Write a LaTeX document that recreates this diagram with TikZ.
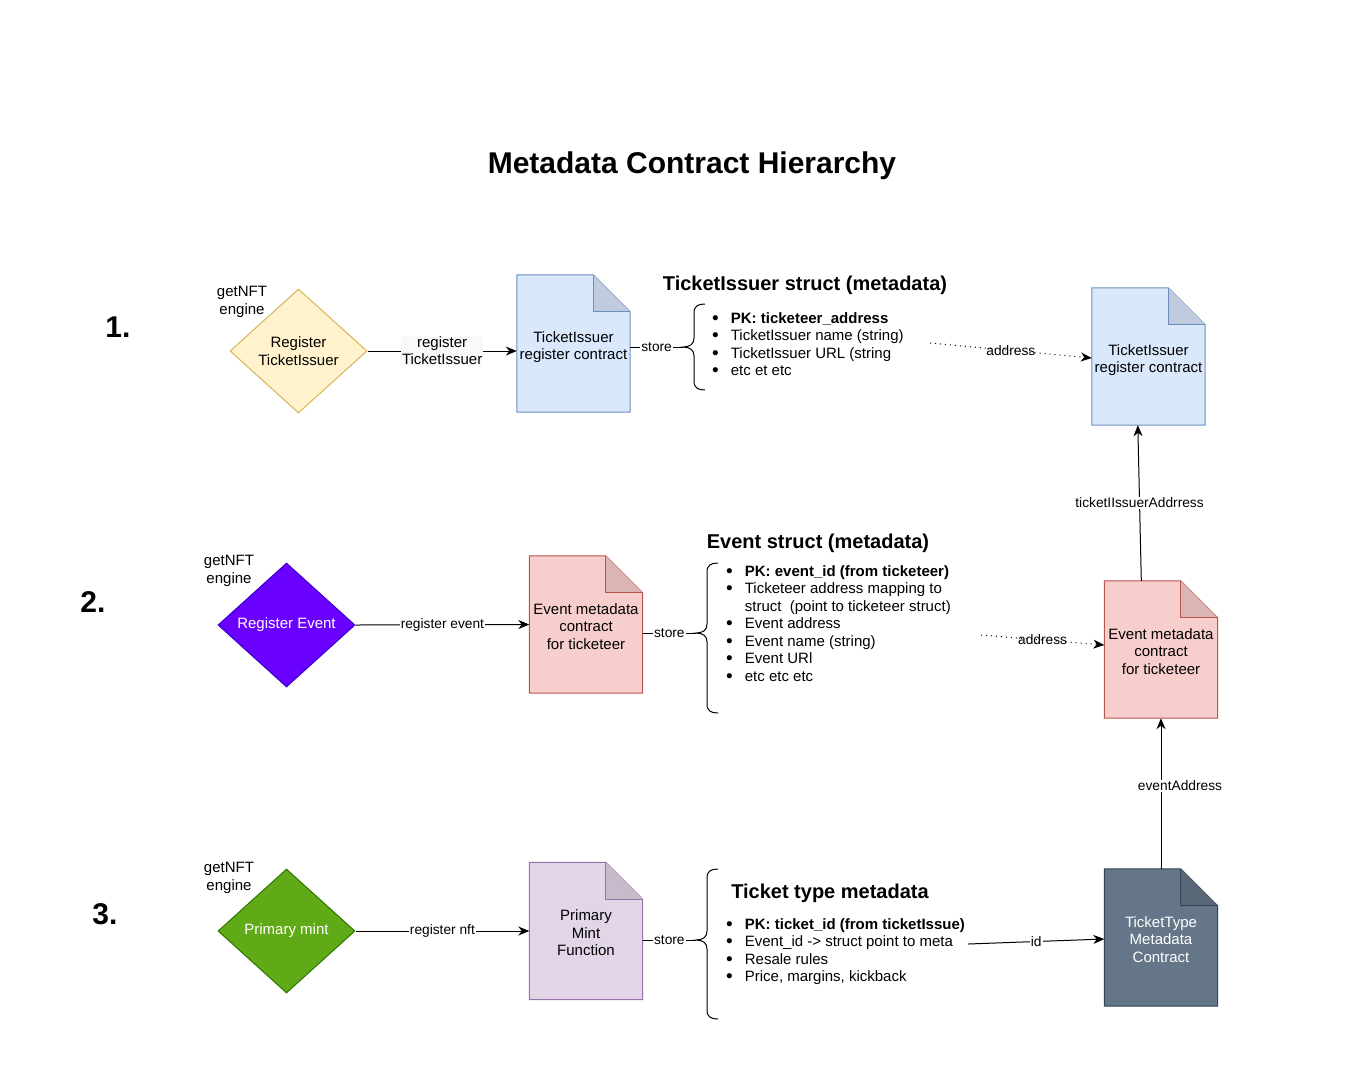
\documentclass[tikz,border=0pt]{standalone}
\usepackage{fontspec}
\setmainfont{Liberation Sans}
\usetikzlibrary{shapes.geometric,arrows.meta,backgrounds}
\definecolor{bluef}{HTML}{DAE8FC}\definecolor{blues}{HTML}{6C8EBF}
\definecolor{redf}{HTML}{F8CECC}\definecolor{reds}{HTML}{B85450}
\definecolor{purf}{HTML}{E1D5E7}\definecolor{purs}{HTML}{9673A6}
\definecolor{darkf}{HTML}{647687}\definecolor{darks}{HTML}{314354}
\definecolor{yelf}{HTML}{FFF2CC}\definecolor{yels}{HTML}{D6B656}
\definecolor{violf}{HTML}{6A00FF}\definecolor{viols}{HTML}{3700CC}
\definecolor{grnf}{HTML}{60A917}\definecolor{grns}{HTML}{2D7600}
\definecolor{lblbg}{HTML}{F8F9FA}
\newcommand{\myfs}[2]{\fontsize{#1}{#2}\selectfont}
\newcommand{\bul}{\raisebox{-0.6pt}{\myfs{19}{17.5}\textbullet}}
% doc shape behind a named node: #1 node, #2 fill, #3 stroke
\newcommand{\docshape}[3]{%
  \draw[fill=#2, draw=#3, line width=1pt] (#1.north west) -- ([xshift=-37pt]#1.north east) -- ([yshift=-37pt]#1.north east) -- (#1.south east) -- (#1.south west) -- cycle;
  \draw[fill=#2!88!black, draw=#3, line width=1pt, line join=round] ([xshift=-37pt]#1.north east) -- ([xshift=-37pt,yshift=-37pt]#1.north east) -- ([yshift=-37pt]#1.north east);
}
% curly brace: right x, spine x, tip x, top y, bottom y, tip y
\newcommand{\cbrace}[6]{%
  \draw[line width=1pt] (#1,#4) .. controls (#2+4,#4) and (#2,#4+2) .. (#2,#4+9) -- (#2,#6-9) .. controls (#2,#6-3) and (#2-4,#6) .. (#3,#6) .. controls (#2-4,#6) and (#2,#6+3) .. (#2,#6+9) -- (#2,#5-9) .. controls (#2,#5-2) and (#2+4,#5) .. (#1,#5);
}
\tikzset{
  every node/.style={font=\myfs{15}{17.5}},
  dmd/.style={diamond, draw, line width=1pt, minimum width=137pt, minimum height=124pt, aspect=1.1, inner sep=0pt, align=center},
  docbox/.style={rectangle, minimum width=113pt, minimum height=137pt, inner sep=0pt},
  plain/.style={align=center, inner sep=0pt},
  heading/.style={font=\bfseries\myfs{20}{24}, inner sep=0pt},
  numlbl/.style={font=\bfseries\myfs{30}{36}, inner sep=0pt},
  lbl/.style={font=\myfs{13.75}{16.5}, fill=white, inner sep=1pt, align=center},
  conn/.style={line width=1pt, -{Stealth[length=11pt,width=9pt,inset=3.5pt]}},
  dotconn/.style={line width=1pt, dash pattern=on 1pt off 4pt, -{Stealth[length=11pt,width=9pt,inset=3.5pt,sep=0pt]}},
  plainline/.style={line width=1pt},
  listnode/.style={anchor=north west, inner sep=0pt, align=left}
}
\begin{document}
\begin{tikzpicture}[x=1pt,y=-1pt]
\useasboundingbox (0,0) rectangle (1354,1080);

\node[font=\bfseries\myfs{30}{36}, inner sep=0pt] (title) at (692,166) {Metadata Contract Hierarchy};

% numbers
\node[numlbl] (n1) at (118,327) {1.};
\node[numlbl] (n2) at (93,602) {2.};
\node[numlbl] (n3) at (105,914) {3.};

% engine labels
\node[plain] (e1) at (242,302) {getNFT\\engine};
\node[plain] (e2) at (229,571) {getNFT\\engine};
\node[plain] (e3) at (229,878) {getNFT\\engine};

% diamonds
\node[dmd, fill=yelf, draw=yels] (dm1) at (298.5,351) {Register\\TicketIssuer};
\node[dmd, fill=violf, draw=viols, text=white] (dm2) at (286.5,625) {Register Event};
\node[dmd, fill=grnf, draw=grns, text=white] (dm3) at (286.5,931) {Primary mint};

% documents
\node[docbox] (d1) at (573.5,343.5) {};
\node[docbox] (d2) at (1148.5,356.5) {};
\node[docbox] (d3) at (586,624.5) {};
\node[docbox] (d4) at (1161,649.5) {};
\node[docbox] (d5) at (586,931) {};
\node[docbox] (d6) at (1161,937.5) {};
\node[plain] (t1) at ([yshift=-3.5pt]d1.center) {TicketIssuer\\register contract};
\node[plain] (t2) at ([yshift=-3.5pt]d2.center) {TicketIssuer\\register contract};
\node[plain] (t3) at ([yshift=-2pt]d3.center) {Event metadata\\contract\\for ticketeer};
\node[plain] (t4) at ([yshift=-2pt]d4.center) {Event metadata\\contract\\for ticketeer};
\node[plain] (t5) at ([yshift=-2pt]d5.center) {Primary\\Mint\\Function};
\node[plain, text=white] (t6) at ([yshift=-2pt]d6.center) {TicketType\\Metadata\\Contract};

\begin{scope}[on background layer]
\fill[white] (0,0) rectangle (1354,1080);
\docshape{d1}{bluef}{blues}
\docshape{d2}{bluef}{blues}
\docshape{d3}{redf}{reds}
\docshape{d4}{redf}{reds}
\docshape{d5}{purf}{purs}
\docshape{d6}{darkf}{darks}
\end{scope}

% headings
\node[heading] (h1) at (805,285) {TicketIssuer struct (metadata)};
\node[heading] (h2) at (818,543) {Event struct (metadata)};
\node[heading] (h3) at (830,893) {Ticket type metadata};

% braces
\cbrace{705}{694}{683}{304}{390}{347}
\coordinate (b1) at (683,347);
\cbrace{718}{707}{696}{563}{713}{633}
\coordinate (b2) at (696,633);
\cbrace{718}{707}{696}{869}{1019}{940}
\coordinate (b3) at (696,940);

% lists
\node[listnode] (l1) at (712,311) {\begin{tabular}{@{}l@{\hspace{12pt}}l@{}}
\bul & \textbf{PK: ticketeer\_address}\\
\bul & TicketIssuer name (string)\\
\bul & TicketIssuer URL (string\\
\bul & etc et etc
\end{tabular}};
\node[listnode] (l2) at (726,564) {\begin{tabular}{@{}l@{\hspace{12pt}}l@{}}
\bul & \textbf{PK: event\_id (from ticketeer)}\\
\bul & Ticketeer address mapping to\\
 & struct\ \ (point to ticketeer struct)\\
\bul & Event address\\
\bul & Event name (string)\\
\bul & Event URl\\
\bul & etc etc etc
\end{tabular}};
\node[listnode] (l3) at (726,917) {\begin{tabular}{@{}l@{\hspace{12pt}}l@{}}
\bul & \textbf{PK: ticket\_id (from ticketIssue)}\\
\bul & Event\_id -> struct point to meta\\
\bul & Resale rules\\
\bul & Price, margins, kickback
\end{tabular}};

% connector end points
\coordinate (a1s) at (930,343);
\coordinate (a2s) at (981,635);
\coordinate (a3s) at (968,944);

% row connectors
\draw[conn] (dm1.east) -- node[lbl, font=\myfs{15}{17}, fill=lblbg]{register\\TicketIssuer} (dm1.east -| d1.west);
\draw[conn] (dm2.east) -- node[lbl]{register event} (d3.west);
\draw[conn] (dm3.east) -- node[lbl]{register nft} (d5.west);

\draw[plainline] (d1.east |- b1) -- node[lbl]{store} (b1);
\draw[plainline] (d3.east |- b2) -- node[lbl]{store} (b2);
\draw[plainline] (d5.east |- b3) -- node[lbl]{store} (b3);

\draw[dotconn] (a1s) -- node[lbl, fill=none]{address} ([yshift=-1.5pt]d2.west);
\draw[dotconn] (a2s) -- node[lbl, fill=none]{address} ([yshift=4.5pt]d4.west);
\draw[conn] (a3s) -- node[lbl]{id} ([yshift=-1.5pt]d6.west);

\draw[conn] ([xshift=37pt]d4.north west) -- node[lbl]{ticketIIssuerAddrress} ([xshift=46pt]d2.south west);
\draw[conn] (d6.north) -- node[lbl, pos=0.55, xshift=19pt]{eventAddress} (d4.south);
\end{tikzpicture}
\end{document}
